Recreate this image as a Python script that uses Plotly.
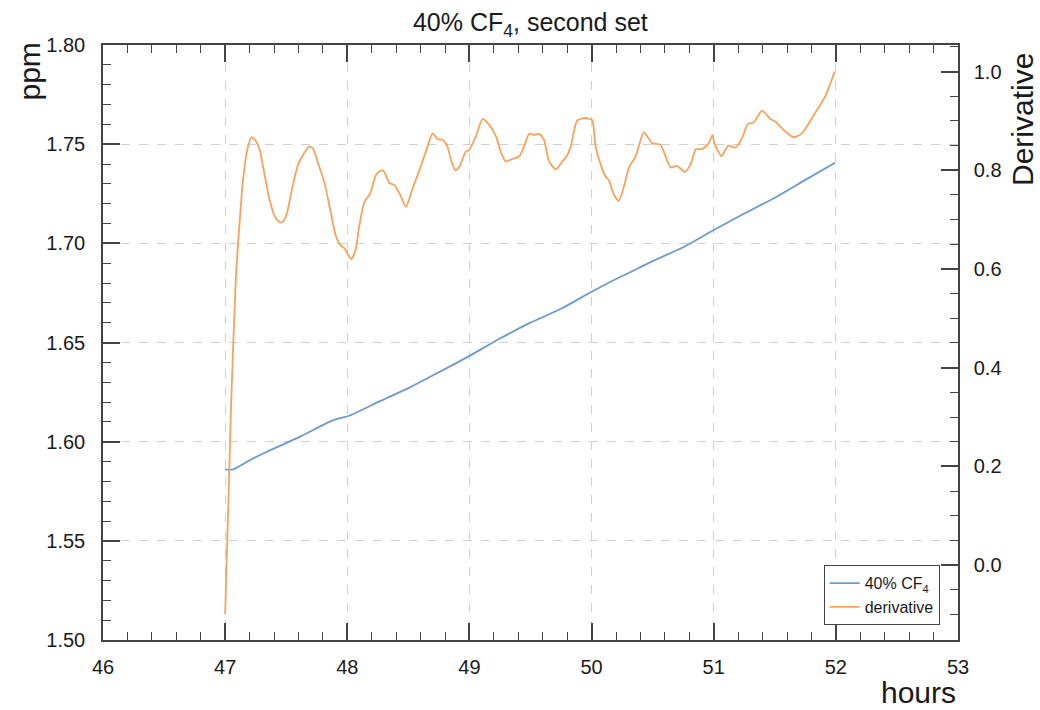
import plotly.graph_objects as go

# ---- data ----
cf4_hours = [47.0, 47.065, 47.2, 47.337, 47.61, 47.88, 48.02, 48.263, 48.5, 48.75,
             48.993, 49.25, 49.5, 49.75, 49.99, 50.196, 50.30, 50.5, 50.75, 50.986,
             51.25, 51.5, 51.75, 51.994]
cf4_ppm = [1.586, 1.586, 1.5906, 1.5948, 1.6024, 1.6107, 1.6132, 1.6203, 1.627, 1.635,
           1.6430, 1.652, 1.660, 1.667, 1.6752, 1.6819, 1.6849, 1.691, 1.698, 1.7062,
           1.715, 1.723, 1.732, 1.7406]

der_hours = [47.0, 47.05, 47.087, 47.12, 47.146, 47.18, 47.215, 47.25, 47.283, 47.32,
             47.364, 47.41, 47.452, 47.48, 47.506, 47.55, 47.596, 47.64, 47.686, 47.718,
             47.76, 47.814, 47.86, 47.909, 47.945, 47.977, 48.0, 48.032, 48.067, 48.10,
             48.14, 48.187, 48.236, 48.277, 48.30, 48.345, 48.386, 48.43, 48.481, 48.53,
             48.59, 48.65, 48.699, 48.74, 48.78, 48.82, 48.85, 48.884, 48.917, 48.97,
             48.998, 49.053, 49.107, 49.162, 49.217, 49.26, 49.298, 49.352, 49.407, 49.45,
             49.489, 49.53, 49.57, 49.61, 49.652, 49.707, 49.761, 49.80, 49.829, 49.883,
             49.952, 49.98, 50.006, 50.033, 50.07, 50.115, 50.142, 50.183, 50.224, 50.265,
             50.306, 50.36, 50.428, 50.496, 50.564, 50.646, 50.70, 50.763, 50.809, 50.855,
             50.904, 50.96, 50.99, 51.005, 51.063, 51.12, 51.176, 51.226, 51.28, 51.327,
             51.395, 51.464, 51.503, 51.586, 51.654, 51.722, 51.83, 51.913, 51.967, 51.99]
der_vals = [-0.10, 0.333, 0.577, 0.70, 0.78, 0.84, 0.867, 0.86, 0.841, 0.795,
            0.740, 0.705, 0.694, 0.698, 0.713, 0.765, 0.811, 0.832, 0.848, 0.845,
            0.815, 0.774, 0.72, 0.665, 0.648, 0.642, 0.632, 0.620, 0.638, 0.69,
            0.736, 0.753, 0.791, 0.80, 0.798, 0.774, 0.770, 0.752, 0.726, 0.76,
            0.80, 0.843, 0.875, 0.863, 0.862, 0.848, 0.82, 0.80, 0.807, 0.838,
            0.841, 0.869, 0.904, 0.892, 0.869, 0.835, 0.818, 0.823, 0.828, 0.85,
            0.874, 0.872, 0.874, 0.862, 0.818, 0.802, 0.818, 0.83, 0.848, 0.901,
            0.906, 0.904, 0.902, 0.848, 0.815, 0.787, 0.78, 0.75, 0.738, 0.767,
            0.806, 0.828, 0.877, 0.855, 0.852, 0.806, 0.809, 0.797, 0.811, 0.843,
            0.843, 0.855, 0.872, 0.855, 0.829, 0.85, 0.846, 0.862, 0.894, 0.897,
            0.921, 0.904, 0.899, 0.879, 0.867, 0.875, 0.916, 0.95, 0.984, 1.0]

x_range = [46, 53]
y_range = [1.50, 1.80]
y2_range = [-0.152, 1.054]

BLUE = "#6b9bcc"
ORANGE = "#f4a45c"
AXC = "#444444"
TXT = "#1a1a1a"
FONT = "Liberation Sans"

fig = go.Figure()
fig.add_trace(go.Scatter(x=cf4_hours, y=cf4_ppm, mode="lines", name="40% CF<sub>4</sub>",
                         line=dict(color=BLUE, width=1.8, shape="spline", smoothing=0.6)))
fig.add_trace(go.Scatter(x=der_hours, y=der_vals, mode="lines", name="derivative", yaxis="y2",
                         line=dict(color=ORANGE, width=1.8, shape="spline", smoothing=0.6)))

tickfont = dict(family=FONT, size=20, color=TXT)
grid = dict(showgrid=True, gridcolor="#d0d0d0", griddash="dash", gridwidth=1)

fig.update_layout(
    width=1040, height=710,
    margin=dict(l=103, r=82, t=45, b=70),
    paper_bgcolor="white", plot_bgcolor="white",
    font=dict(family=FONT, color=TXT),
    title=dict(text="40% CF<sub>4</sub>, second set", x=0.51, xanchor="center",
               y=0.968, yanchor="middle", font=dict(family=FONT, size=25, color=TXT)),
    xaxis=dict(range=x_range, dtick=1, tick0=46, ticks="inside", ticklen=17, tickwidth=1.5,
               tickcolor=AXC, showline=True, linecolor=AXC, linewidth=1.5, mirror="ticks",
               tickfont=tickfont, zeroline=False, ticklabelstandoff=8,
               minor=dict(ticks="inside", ticklen=8, dtick=0.2, tickcolor=AXC, tickwidth=1.2, showgrid=False),
               **grid),
    yaxis=dict(range=y_range, dtick=0.05, tick0=1.5, tickformat=".2f", ticks="inside", ticklen=17,
               tickwidth=1.5, tickcolor=AXC, showline=True, linecolor=AXC, linewidth=1.5,
               mirror=False, tickfont=tickfont, zeroline=False, ticklabelstandoff=12,
               minor=dict(ticks="inside", ticklen=8, dtick=0.01, tickcolor=AXC, tickwidth=1.2, showgrid=False),
               **grid),
    yaxis2=dict(range=y2_range, overlaying="y", side="right", dtick=0.2, tick0=0, tickformat=".1f",
                ticks="inside", ticklen=17, tickwidth=1.5, tickcolor=AXC, showline=True,
                linecolor=AXC, linewidth=1.5, showgrid=False, zeroline=False, tickfont=tickfont,
                ticklabelstandoff=10,
                minor=dict(ticks="inside", ticklen=8, dtick=0.05, tickcolor=AXC, tickwidth=1.2, showgrid=False)),
    legend=dict(x=0.9786, xanchor="right", y=0.025, yanchor="bottom", bgcolor="white",
                bordercolor=AXC, borderwidth=1, font=dict(family=FONT, size=16, color=TXT),
                itemwidth=30, tracegroupgap=2),
    showlegend=True,
)

fig.add_annotation(text="ppm", xref="paper", yref="paper", x=0, y=1, xanchor="right", yanchor="top",
                   xshift=-56, yshift=4, textangle=-90, showarrow=False,
                   font=dict(family=FONT, size=30, color=TXT))
fig.add_annotation(text="Derivative", xref="paper", yref="paper", x=1, y=1, xanchor="left", yanchor="top",
                   xshift=46, yshift=-6, textangle=-90, showarrow=False,
                   font=dict(family=FONT, size=30, color=TXT))
fig.add_annotation(text="hours", xref="paper", yref="paper", x=1, y=0, xanchor="right", yanchor="top",
                   xshift=0, yshift=-34, showarrow=False,
                   font=dict(family=FONT, size=30, color=TXT))

fig.write_html("out.html")
